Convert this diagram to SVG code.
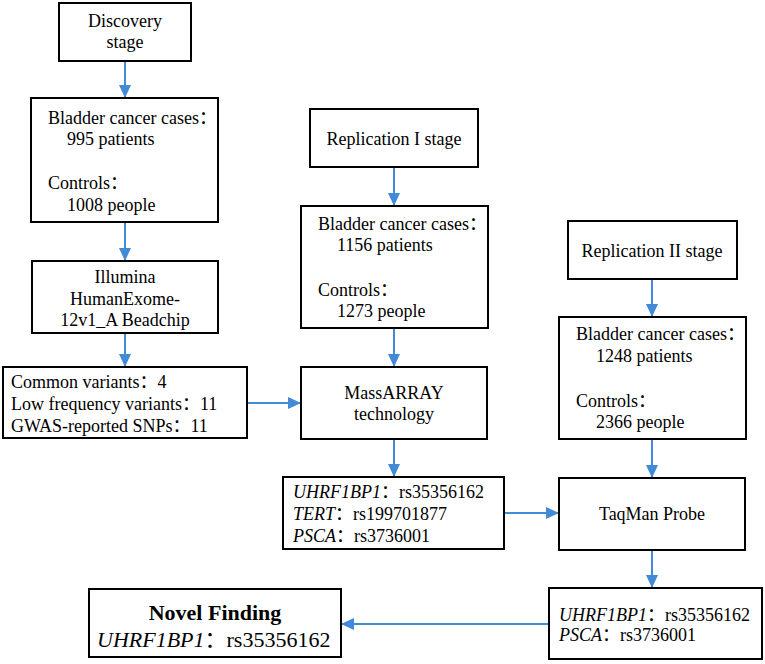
<svg xmlns="http://www.w3.org/2000/svg" width="765" height="664" viewBox="0 0 765 664">
<defs>
<style>
.box{fill:#fff;stroke:#000;stroke-width:2}
.t{font-family:'Liberation Serif','Times New Roman',serif;font-size:18px;fill:#000}
.k{font-family:'Noto Sans CJK SC','Noto Sans CJK JP',sans-serif;font-style:normal;font-weight:normal}
.c{text-anchor:middle}
.i{font-style:italic}
.big{font-size:22px}
.b{font-weight:bold}
.con{stroke:#418AD6;stroke-width:2;fill:none;marker-end:url(#ah)}
</style>
<marker id="ah" markerUnits="userSpaceOnUse" markerWidth="14" markerHeight="14" viewBox="0 0 14 14" refX="13" refY="7" orient="auto">
<path d="M0,1 L13,7 L0,13 Z" fill="#418AD6"/>
</marker>
</defs>
<rect width="765" height="664" fill="#fff"/>
<g id="connectors">
<line class="con" x1="125" y1="61" x2="125" y2="98"/>
<line class="con" x1="125" y1="222" x2="125" y2="261"/>
<line class="con" x1="125" y1="333" x2="125" y2="367"/>
<line class="con" x1="247" y1="403" x2="301" y2="403"/>
<line class="con" x1="394" y1="167" x2="394" y2="206"/>
<line class="con" x1="394" y1="328" x2="394" y2="367"/>
<line class="con" x1="394" y1="439" x2="394" y2="477"/>
<line class="con" x1="504" y1="513" x2="559" y2="513"/>
<line class="con" x1="652" y1="279" x2="652" y2="317"/>
<line class="con" x1="652" y1="439" x2="652" y2="478"/>
<line class="con" x1="652" y1="550" x2="652" y2="588"/>
<line class="con" x1="549" y1="624" x2="341" y2="624"/>
</g>
<g id="discovery">
<rect class="box" x="59" y="3" width="132" height="58"/>
<text class="t c" x="125" y="27">Discovery</text>
<text class="t c" x="125" y="48">stage</text>
</g>
<g id="discovery-samples">
<rect class="box" x="31" y="98" width="187" height="124"/>
<text class="t" x="48" y="124">Bladder cancer cases<tspan class="k">：</tspan></text>
<text class="t" x="67" y="145">995 patients</text>
<text class="t" x="48" y="189">Controls<tspan class="k">：</tspan></text>
<text class="t" x="67" y="211">1008 people</text>
</g>
<g id="illumina">
<rect class="box" x="32" y="261" width="186" height="72"/>
<text class="t c" x="125" y="283">Illumina</text>
<text class="t c" x="125" y="305">HumanExome-</text>
<text class="t c" x="125" y="326">12v1_A Beadchip</text>
</g>
<g id="variants">
<rect class="box" x="3" y="367" width="244" height="71"/>
<text class="t" x="11" y="388">Common variants<tspan class="k">：</tspan>4</text>
<text class="t" x="11" y="410">Low frequency variants<tspan class="k">：</tspan>11</text>
<text class="t" x="11" y="432">GWAS-reported SNPs<tspan class="k">：</tspan>11</text>
</g>
<g id="replication1">
<rect class="box" x="310" y="109" width="168" height="58"/>
<text class="t c" x="394" y="145">Replication I stage</text>
</g>
<g id="replication1-samples">
<rect class="box" x="301" y="206" width="187" height="122"/>
<text class="t" x="318" y="230">Bladder cancer cases<tspan class="k">：</tspan></text>
<text class="t" x="337" y="251">1156 patients</text>
<text class="t" x="318" y="296">Controls<tspan class="k">：</tspan></text>
<text class="t" x="337" y="317">1273 people</text>
</g>
<g id="massarray">
<rect class="box" x="301" y="367" width="186" height="72"/>
<text class="t c" x="394" y="399">MassARRAY</text>
<text class="t c" x="394" y="420">technology</text>
</g>
<g id="massarray-results">
<rect class="box" x="283" y="477" width="221" height="72"/>
<text class="t" x="293" y="498"><tspan class="i">UHRF1BP1</tspan><tspan class="k">：</tspan>rs35356162</text>
<text class="t" x="293" y="520"><tspan class="i">TERT</tspan><tspan class="k">：</tspan>rs199701877</text>
<text class="t" x="293" y="542"><tspan class="i">PSCA</tspan><tspan class="k">：</tspan>rs3736001</text>
</g>
<g id="replication2">
<rect class="box" x="568" y="221" width="169" height="58"/>
<text class="t c" x="652" y="257">Replication II stage</text>
</g>
<g id="replication2-samples">
<rect class="box" x="559" y="317" width="187" height="122"/>
<text class="t" x="576" y="340">Bladder cancer cases<tspan class="k">：</tspan></text>
<text class="t" x="596" y="362">1248 patients</text>
<text class="t" x="576" y="407">Controls<tspan class="k">：</tspan></text>
<text class="t" x="596" y="428">2366 people</text>
</g>
<g id="taqman">
<rect class="box" x="559" y="478" width="186" height="72"/>
<text class="t c" x="652" y="520">TaqMan Probe</text>
</g>
<g id="taqman-results">
<rect class="box" x="549" y="588" width="213" height="71"/>
<text class="t" x="559" y="621"><tspan class="i">UHRF1BP1</tspan><tspan class="k">：</tspan>rs35356162</text>
<text class="t" x="559" y="641"><tspan class="i">PSCA</tspan><tspan class="k">：</tspan>rs3736001</text>
</g>
<g id="novel-finding">
<rect class="box" x="89" y="589" width="252" height="68"/>
<text class="t c big b" x="215" y="620">Novel Finding</text>
<text class="t big" x="97" y="647"><tspan class="i">UHRF1BP1</tspan><tspan class="k">：</tspan>rs35356162</text>
</g>
</svg>
